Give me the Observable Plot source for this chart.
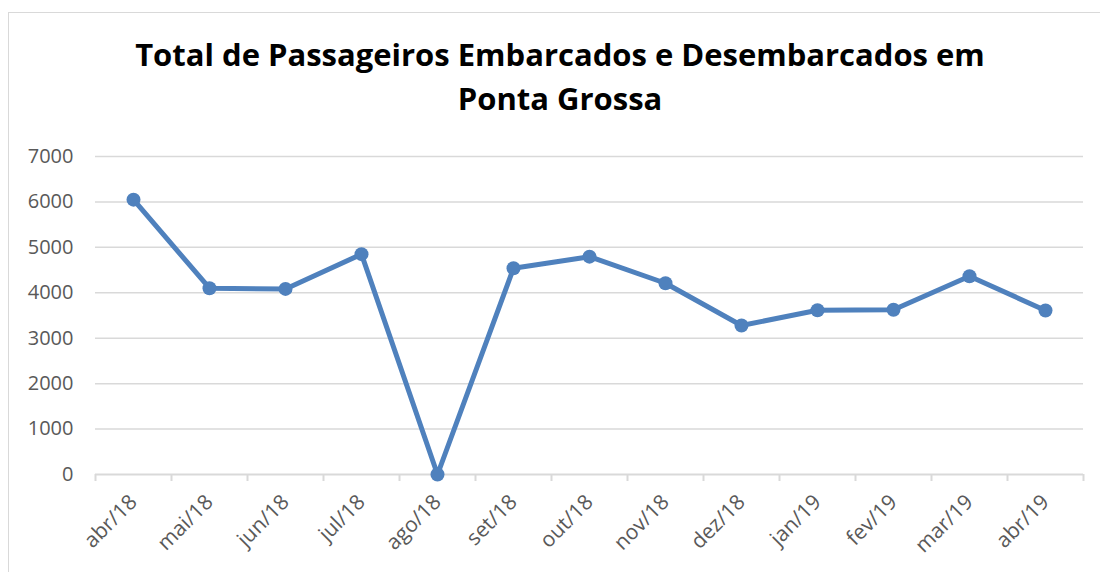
<!DOCTYPE html>
<html>
<head>
<meta charset="utf-8">
<script src="https://cdn.jsdelivr.net/npm/d3@7"></script>
<script src="https://cdn.jsdelivr.net/npm/@observablehq/plot@0.6"></script>
<style>
  html, body { margin: 0; padding: 0; background: #fff; }
  #wrap { position: relative; width: 1100px; height: 572px; overflow: hidden; background: #fff; }
  #frame { position: absolute; left: 8px; top: 12px; width: 1110px; height: 600px; border: 1px solid #d9d9d9; box-sizing: border-box; }
  #title { position: absolute; left: 0; top: 32px; width: 1120px; text-align: center;
           font-family: "Open Sans", sans-serif; font-weight: 700; font-size: 31px; line-height: 44px; color: #000; }
  #chart { position: absolute; left: 0; top: 0; }
</style>
</head>
<body>
<div id="wrap">
  <div id="frame"></div>
  <div id="title">Total de Passageiros Embarcados e Desembarcados em<br>Ponta Grossa</div>
  <div id="chart"></div>
</div>
<script>
const months = ["abr/18","mai/18","jun/18","jul/18","ago/18","set/18","out/18","nov/18","dez/18","jan/19","fev/19","mar/19","abr/19"];
const passengers = [6050, 4100, 4085, 4850, 0, 4540, 4795, 4210, 3280, 3615, 3625, 4365, 3610];
const yTicks = [0, 1000, 2000, 3000, 4000, 5000, 6000, 7000];

const data = months.map((m, i) => ({month: m, pos: i + 0.5, value: passengers[i]}));
const boundaries = d3.range(0, months.length + 1);

const chart = Plot.plot({
  width: 1100,
  height: 572,
  marginLeft: 95,
  marginRight: 17,
  marginTop: 156,
  marginBottom: 98,
  style: {fontFamily: "Open Sans, sans-serif", fontSize: "18px", color: "#595959", background: "transparent"},
  x: {type: "linear", domain: [0, months.length]},
  y: {type: "linear", domain: [0, 7000]},
  marks: [
    Plot.ruleY(yTicks.filter(d => d > 0), {stroke: "#d9d9d9", strokeWidth: 1.5, strokeOpacity: 1}),
    Plot.ruleX(boundaries, {x: d => d, y1: 0, y2: 0, insetBottom: -7, stroke: "#d9d9d9", strokeWidth: 2}),
    Plot.ruleY([0], {stroke: "#d9d9d9", strokeWidth: 2}),
    Plot.axisY(yTicks, {tickSize: 0, tickPadding: 22, fontSize: 20, fill: "#595959", tickFormat: d => String(d), label: null}),
    Plot.axisX(data.map(d => d.pos), {tickFormat: d => months[d - 0.5], tickSize: 0, tickPadding: 24, tickRotate: -45, fontSize: 21, fill: "#595959", label: null}),
    Plot.line(data, {x: "pos", y: "value", stroke: "#4f81bd", strokeWidth: 5, strokeLinejoin: "round"}),
    Plot.dot(data, {x: "pos", y: "value", r: 7, fill: "#4f81bd", stroke: "none"})
  ]
});
document.getElementById("chart").appendChild(chart);
</script>
</body>
</html>
